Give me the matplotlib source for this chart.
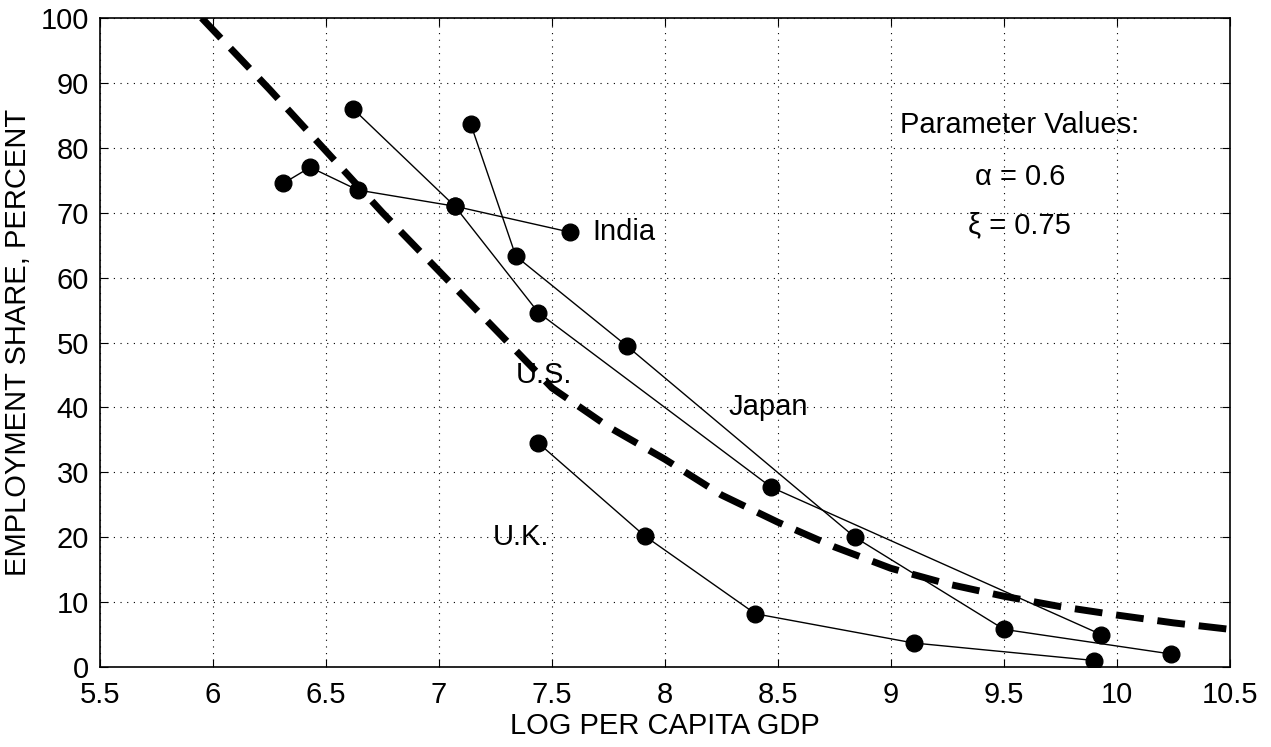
import matplotlib
matplotlib.use("Agg")
import matplotlib.pyplot as plt

plt.rcParams['font.family'] = ['Liberation Sans', 'DejaVu Sans']

india_x = [6.31, 6.43, 6.64, 7.07, 7.58]
india_y = [74.5, 77.0, 73.5, 71.0, 67.0]
us_x = [6.62, 7.07, 7.44, 8.47, 9.93]
us_y = [86.0, 71.0, 54.6, 27.7, 5.0]
japan_x = [7.14, 7.34, 7.83, 8.84, 9.50, 10.24]
japan_y = [83.7, 63.3, 49.5, 20.0, 5.8, 2.0]
uk_x = [7.44, 7.91, 8.40, 9.10, 9.90]
uk_y = [34.5, 20.2, 8.2, 3.7, 1.0]
model_x = [5.95, 6.25, 6.5, 6.75, 7.0, 7.25, 7.5, 7.75, 8.0, 8.25, 8.5, 8.75, 9.0, 9.25, 9.5, 9.75, 10.0, 10.25, 10.5]
model_y = [100, 89, 79.5, 70, 61, 52, 43, 37, 32, 26.5, 22.3, 18.5, 15.2, 12.8, 10.9, 9.3, 8.0, 6.8, 5.8]

fig = plt.figure(figsize=(12.71, 7.47), dpi=100)
ax = fig.add_axes([100/1271, 1-667/747, 1130/1271, 649/747])
for xs, ys in [(india_x, india_y), (us_x, us_y), (japan_x, japan_y), (uk_x, uk_y)]:
    ax.plot(xs, ys, '-', color='black', lw=1, marker='o', ms=12, mfc='black', mec='black', zorder=3)
ax.plot(model_x, model_y, '--', color='black', lw=5, dashes=(4, 2), zorder=2)

ax.set_xlim(5.5, 10.5)
ax.set_ylim(0, 100)
ax.set_xticks([5.5, 6, 6.5, 7, 7.5, 8, 8.5, 9, 9.5, 10, 10.5])
ax.set_xticklabels(['5.5', '6', '6.5', '7', '7.5', '8', '8.5', '9', '9.5', '10', '10.5'])
ax.set_yticks(range(0, 101, 10))
ax.grid(True, linestyle=(0, (1, 5)), color='black', lw=0.8)
ax.tick_params(direction='in', labelsize=21, top=True, right=True, length=6)
ax.tick_params(axis='x', pad=10)
ax.tick_params(axis='y', pad=8)
for s in ax.spines.values():
    s.set_linewidth(1.2)
ax.set_xlabel('LOG PER CAPITA GDP', fontsize=21, labelpad=2)
ax.set_ylabel('EMPLOYMENT SHARE, PERCENT', fontsize=21, labelpad=6)

ax.text(7.68, 67, 'India', fontsize=21, va='center')
ax.text(7.34, 45, 'U.S.', fontsize=21, va='center')
ax.text(8.28, 40, 'Japan', fontsize=21, va='center')
ax.text(7.24, 20, 'U.K.', fontsize=21, va='center')
ax.text(9.57, 83.5, 'Parameter Values:', fontsize=21, ha='center', va='center')
ax.text(9.57, 75.5, 'α = 0.6', fontsize=21, ha='center', va='center')
ax.text(9.57, 68, 'ξ = 0.75', fontsize=21, ha='center', va='center')

fig.savefig('out.png', dpi=100)
